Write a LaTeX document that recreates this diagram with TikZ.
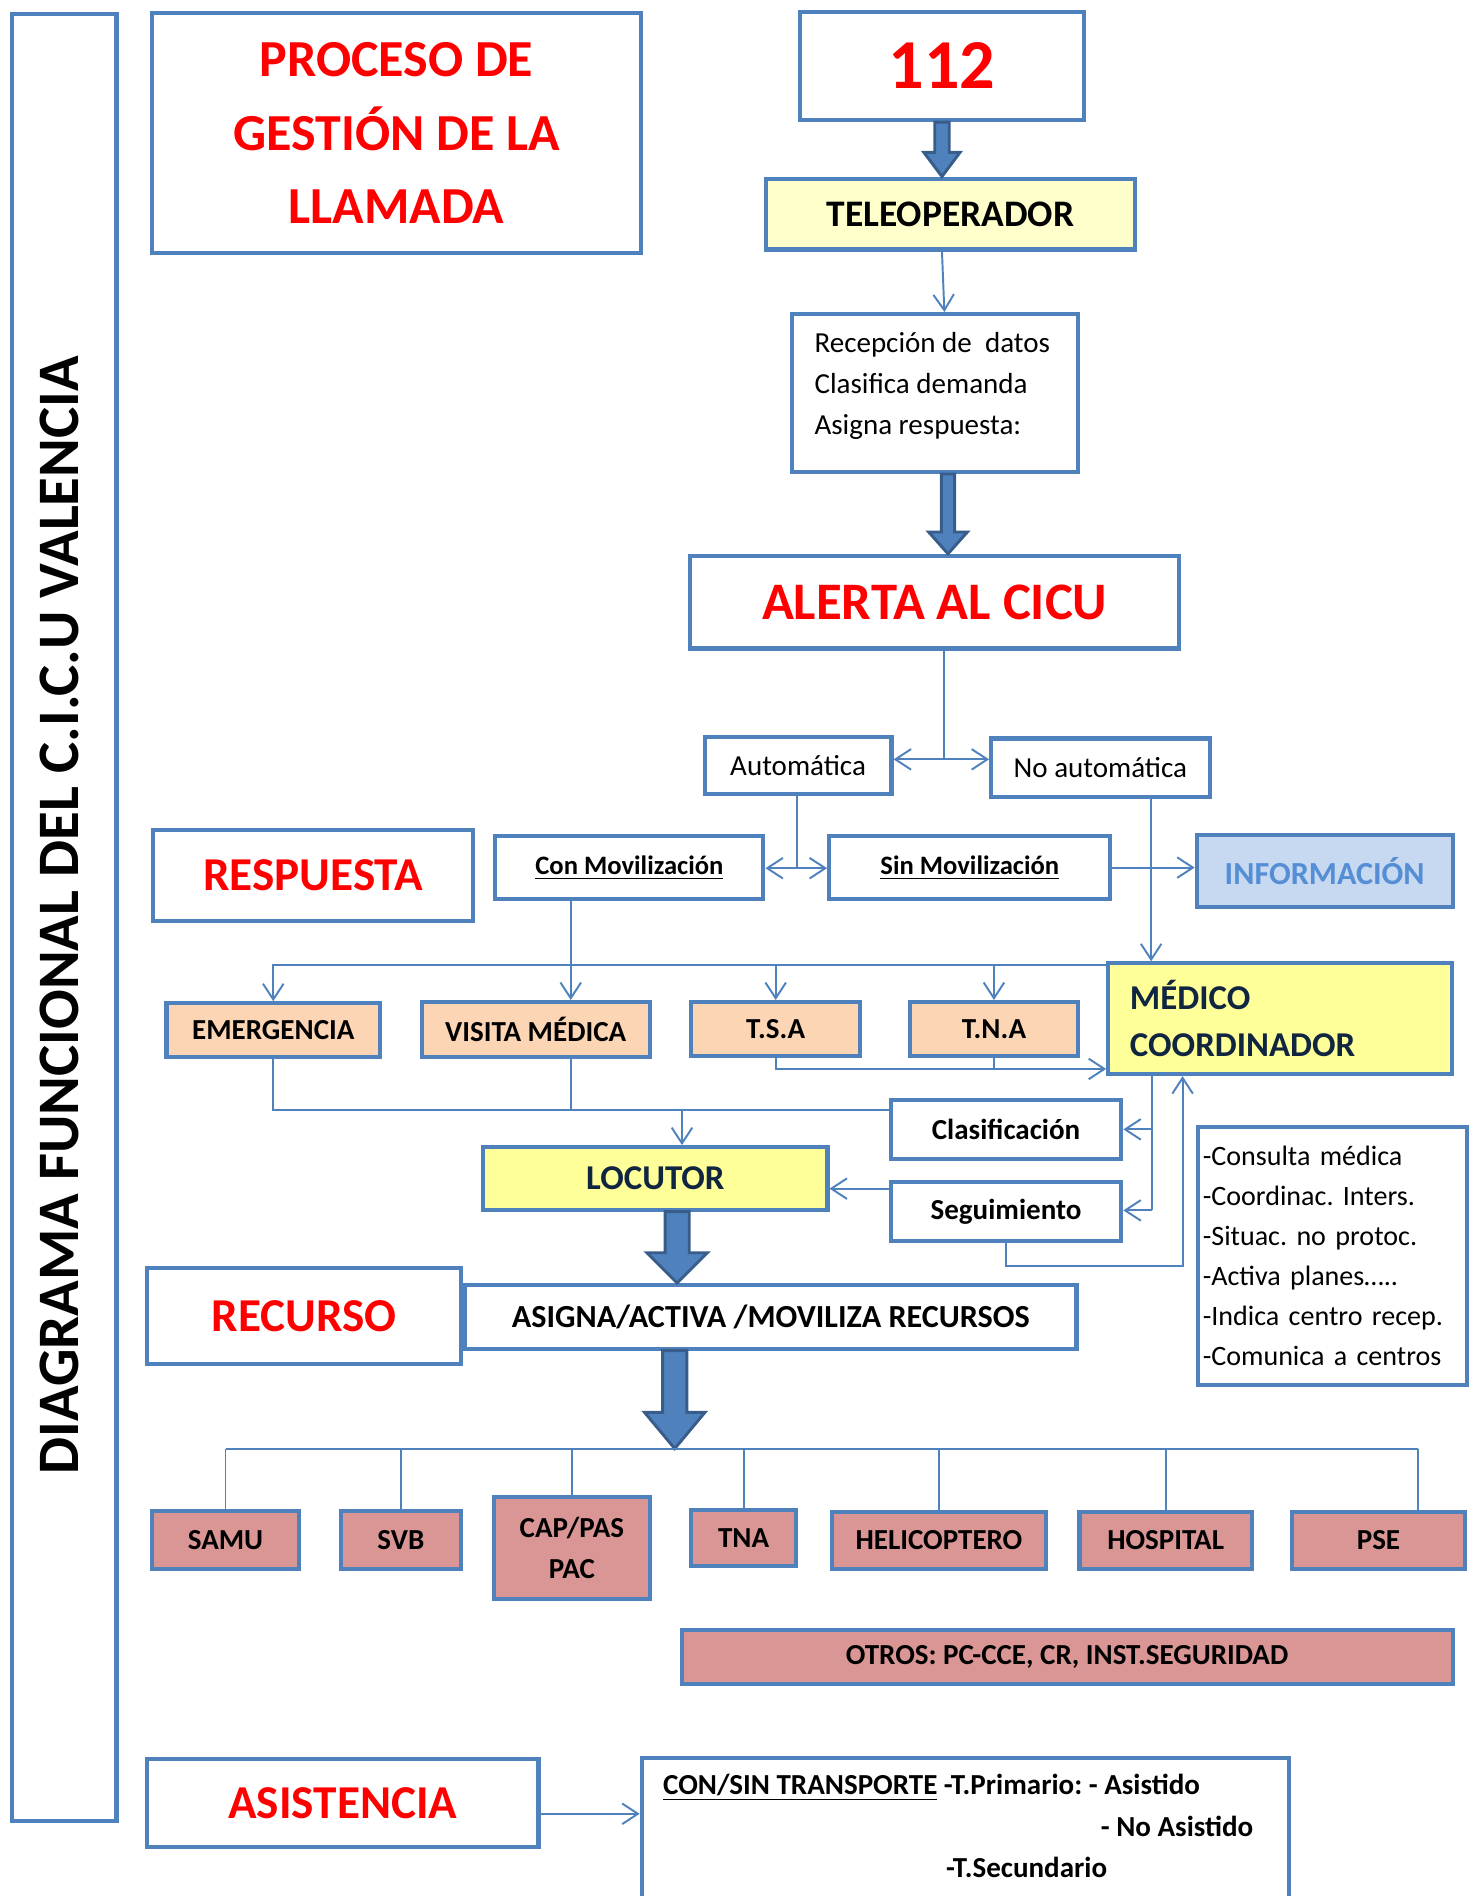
\documentclass[tikz,border=0pt]{standalone}
\usepackage{fontspec}
\setmainfont{Carlito}
\usetikzlibrary{shapes,arrows.meta,calc}
\definecolor{boxblue}{HTML}{4F81BD}
\definecolor{fatline}{HTML}{385D8A}
\definecolor{titlered}{HTML}{FF0000}
\definecolor{paleyellow}{HTML}{FFFFCC}
\definecolor{yellowfill}{HTML}{FFFF99}
\definecolor{peach}{HTML}{FCD5B5}
\definecolor{rose}{HTML}{D99694}
\definecolor{infofill}{HTML}{C6D9F1}
\definecolor{infotext}{HTML}{558ED5}
\definecolor{navy}{HTML}{10253F}
\tikzstyle{box} = [rectangle, draw=boxblue, line width=1.7pt, inner sep=2pt, text centered]
\tikzstyle{redbox} = [box, text=titlered, font=\fontsize{19.5pt}{23pt}\selectfont\bfseries]
\tikzstyle{tipo} = [box, font=\fontsize{12pt}{14pt}\selectfont]
\tikzstyle{mov} = [box, font=\fontsize{11pt}{13pt}\selectfont\bfseries]
\tikzstyle{branch} = [box, fill=peach, font=\fontsize{12pt}{14pt}\selectfont\bfseries]
\tikzstyle{resource} = [box, fill=rose, font=\fontsize{12pt}{14pt}\selectfont\bfseries]
\tikzstyle{transp} = [anchor=base west, inner sep=0pt, font=\fontsize{12pt}{14pt}\selectfont\bfseries]
\tikzstyle{link} = [draw=boxblue, line width=0.8pt, -{Straight Barb[length=6.5pt,width=8.5pt]}]
\tikzstyle{wire} = [draw=boxblue, line width=0.8pt]
\tikzstyle{fat} = [draw=fatline, fill=boxblue, line width=1.2pt, line join=miter]
% big block arrow: from, to, half shaft, half head, head length
\newcommand{\fatarrow}[5]{%
  \draw[fat] let \p1=(#1), \p2=(#2) in
    (\x1-#3,\y1) -- (\x1+#3,\y1) -- (\x1+#3,\y2+#5) -- (\x1+#4,\y2+#5)
    -- (\x1,\y2) -- (\x1-#4,\y2+#5) -- (\x1-#3,\y2+#5) -- cycle;}
\frenchspacing

\begin{document}
\begin{tikzpicture}[x=0.5pt, y=-0.5pt]
	\useasboundingbox (0,0) rectangle (1217,1568);
	\clip (0,0) rectangle (1217,1568);

	% Place nodes
	\node[box, minimum width=43.3pt, minimum height=747.3pt] (frame) at (53,759) {};
	\node[rotate=90, font=\fontsize{24.3pt}{28pt}\selectfont\bfseries] (frametitle) at (49,757) {DIAGRAMA FUNCIONAL DEL C.I.C.U VALENCIA};

	\node[box, text=titlered, font=\fontsize{21.5pt}{30.5pt}\selectfont\bfseries, align=center,
		minimum width=202.3pt, minimum height=99.3pt] (title) at (328,110) {PROCESO DE\\GESTIÓN DE LA\\LLAMADA};
	\node[box, text=titlered, font=\fontsize{29pt}{32pt}\selectfont\bfseries,
		minimum width=117.3pt, minimum height=44.8pt] (n112) at (779,54.5) {112};
	\node[box, fill=paleyellow, font=\fontsize{15.5pt}{18pt}\selectfont\bfseries,
		minimum width=152.3pt, minimum height=29.3pt] (teleop) at (786,177) {TELEOPERADOR};
	\node[box, minimum width=118.3pt, minimum height=65.3pt] (recep) at (773,325) {};
	\node[font=\fontsize{12pt}{17pt}\selectfont, align=left] (receptext) at ([xshift=-1pt, yshift=3pt]recep.center)
		{Recepción de\ \ datos\\Clasifica demanda\\Asigna respuesta:};
	\node[box, text=titlered, font=\fontsize{21.8pt}{25pt}\selectfont\bfseries,
		minimum width=202.3pt, minimum height=38.3pt] (alerta) at (773,498) {ALERTA AL CICU};

	\node[tipo, minimum width=77.3pt, minimum height=23.3pt] (auto) at (660,633) {Automática};
	\node[tipo, minimum width=90.3pt, minimum height=24.3pt] (noauto) at (910,635) {No automática};

	\node[redbox, minimum width=132.3pt, minimum height=37.3pt] (resp) at (259,724) {RESPUESTA};
	\node[mov, minimum width=110.8pt, minimum height=25.8pt] (conmov) at (520.5,717.5) {\underline{Con Movilización}};
	\node[mov, minimum width=116.3pt, minimum height=25.8pt] (sinmov) at (802,717.5) {\underline{Sin Movilización}};
	\node[box, fill=infofill, text=infotext, font=\fontsize{13.3pt}{15pt}\selectfont\bfseries,
		minimum width=105.8pt, minimum height=29.8pt] (info) at (1095.5,720.5) {INFORMACIÓN};

	\node[branch, minimum width=88.3pt, minimum height=22.3pt] (emerg) at (226,852) {EMERGENCIA};
	\node[branch, minimum width=94.3pt, minimum height=22.8pt] (visita) at (443,851.5) {VISITA MÉDICA};
	\node[branch, minimum width=69.8pt, minimum height=22.3pt] (tsa) at (641.5,851) {T.S.A};
	\node[branch, minimum width=69.3pt, minimum height=22.3pt] (tna) at (822,851) {T.N.A};
	\node[box, fill=yellowfill, text=navy, font=\fontsize{14.4pt}{19.5pt}\selectfont\bfseries, align=left,
		text width=124pt, inner xsep=9pt, minimum height=45.8pt] (medico) at (1058.5,842.5) {MÉDICO\\COORDINADOR};

	\node[box, font=\fontsize{12pt}{14pt}\selectfont\bfseries, minimum width=95.3pt, minimum height=24.3pt] (clasif) at (832,934) {Clasificación};
	\node[box, font=\fontsize{12pt}{14pt}\selectfont\bfseries, minimum width=95.3pt, minimum height=24.3pt] (seguim) at (832,1002) {Seguimiento};
	\node[box, fill=yellowfill, text=navy, font=\fontsize{14.4pt}{17pt}\selectfont\bfseries,
		minimum width=142.3pt, minimum height=25.8pt] (locutor) at (542,974.5) {LOCUTOR};
	\node[box, font=\fontsize{11.6pt}{16.5pt}\selectfont, align=left, text width=107.3pt,
		minimum height=106.8pt] (lista) at (1102,1038.5) {-Consulta médica\\-Coordinac. Inters.\\-Situac. no protoc.\\-Activa planes…..\\-Indica centro recep.\\-Comunica a centros};

	\node[redbox, minimum width=129.8pt, minimum height=39.8pt] (recurso) at (251.5,1088.5) {RECURSO};
	\node[box, font=\fontsize{13.3pt}{15pt}\selectfont\bfseries, minimum width=252.8pt, minimum height=26.3pt] (asigna) at (637.5,1089) {ASIGNA/ACTIVA /MOVILIZA RECURSOS};

	\node[resource, minimum width=60.8pt, minimum height=23.8pt] (samu) at (186.5,1273.5) {SAMU};
	\node[resource, minimum width=49.8pt, minimum height=23.8pt] (svb) at (331.5,1273.5) {SVB};
	\node[resource, align=center, font=\fontsize{12pt}{17pt}\selectfont\bfseries,
		minimum width=64.3pt, minimum height=42.3pt] (cap) at (473,1280) {CAP/PAS\\PAC};
	\node[resource, minimum width=43.3pt, minimum height=23.3pt] (tnar) at (615,1272) {TNA};
	\node[resource, minimum width=88.8pt, minimum height=23.3pt] (heli) at (776.5,1274) {HELICOPTERO};
	\node[resource, minimum width=71.3pt, minimum height=23.3pt] (hosp) at (964,1274) {HOSPITAL};
	\node[resource, minimum width=71.3pt, minimum height=23.3pt] (pse) at (1140,1274) {PSE};
	\node[resource, minimum width=318.8pt, minimum height=22.3pt] (otros) at (882.5,1370) {OTROS: PC-CCE, CR, INST.SEGURIDAD};

	\node[redbox, minimum width=161.8pt, minimum height=36.3pt] (asist) at (283.5,1491) {ASISTENCIA};
	\node[box, minimum width=267.8pt, minimum height=72.3pt] (consin) at (798.5,1526) {};
	\node[transp] (trans1) at (548,1484) {\underline{CON/SIN TRANSPORTE} -T.Primario: - Asistido};
	\node[transp] (trans2) at (910,1519) {- No Asistido};
	\node[transp] (trans3) at (782,1553) {-T.Secundario};

	% Block arrows
	\fatarrow{n112.south}{n112.south |- teleop.north}{3pt}{7.5pt}{10pt}
	\coordinate (fat2) at ([xshift=5.5pt]recep.south);
	\fatarrow{fat2}{fat2 |- alerta.north}{2.75pt}{8pt}{9pt}
	\coordinate (fat3) at ([xshift=9pt]locutor.south);
	\fatarrow{fat3}{fat3 |- asigna.north}{5pt}{12.5pt}{12.5pt}
	\coordinate (rbus) at (558,1198);
	\fatarrow{asigna.south -| rbus}{rbus}{5pt}{12.5pt}{15pt}

	% Connectors
	\draw[link] ([xshift=-3.5pt]teleop.south) -- ([xshift=4pt]recep.north);

	\coordinate (split1) at (781,628);
	\draw[wire] (alerta.south -| split1) -- (split1);
	\draw[link] (split1) -- (split1 -| auto.east);
	\draw[link] (split1) -- (split1 -| noauto.west);

	\coordinate (split2) at (659,718);
	\draw[wire] (auto.south -| split2) -- (split2);
	\draw[link] (split2) -- (split2 -| conmov.east);
	\draw[link] (split2) -- (split2 -| sinmov.west);
	\draw[link] (sinmov.east) -- (sinmov.east -| info.west);

	\coordinate (medin) at (952,794);
	\draw[link] (noauto.south -| medin) -- (medico.north -| medin);

	\coordinate (visin) at (472,800);
	\draw[link] (conmov.south -| visin) -- (visita.north -| visin);

	\coordinate (bus1) at (226,798);
	\draw[link] (medico.west |- bus1) -- (bus1) -- (emerg.north);
	\draw[link] (tsa.north |- bus1) -- (tsa.north);
	\draw[link] (tna.north |- bus1) -- (tna.north);

	\coordinate (bus2) at (638,884);
	\draw[link] (tsa.south) -- (tsa.south |- bus2) -- (medico.west |- bus2);
	\draw[wire] (tna.south) -- (tna.south |- bus2);

	\coordinate (bus3) at (226,918);
	\draw[wire] (emerg.south) -- (bus3) -- (bus3 -| clasif.west);
	\draw[wire] (visita.south -| visin) -- (bus3 -| visin);
	\coordinate (locin) at (564,918);
	\draw[link] (locin) -- (locutor.north -| locin);

	\coordinate (segout) at (735,983);
	\draw[link] (seguim.west |- segout) -- (locutor.east |- segout);

	\coordinate (medout) at (953,1001);
	\draw[wire] (medico.south -| medout) -- (medout);
	\draw[link] (medout |- clasif.east) -- (clasif.east);
	\draw[link] (medout) -- (medout -| seguim.east);

	\coordinate (medback) at (978,1047);
	\draw[link] (seguim.south) -- (seguim.south |- medback) -- (medback) -- (medback |- medico.south);

	\coordinate (psein) at ([xshift=16.5pt]pse.north);
	\draw[wire] (samu.north |- rbus) -- (psein |- rbus);
	\foreach \r in {samu,svb,cap,tnar,heli,hosp}
		\draw[wire] (\r.north |- rbus) -- (\r.north);
	\draw[wire] (psein |- rbus) -- (psein);

	\draw[link] ([yshift=-4.5pt]asist.east) -- ([yshift=-4.5pt]asist.east -| consin.west);

\end{tikzpicture}
\end{document}
